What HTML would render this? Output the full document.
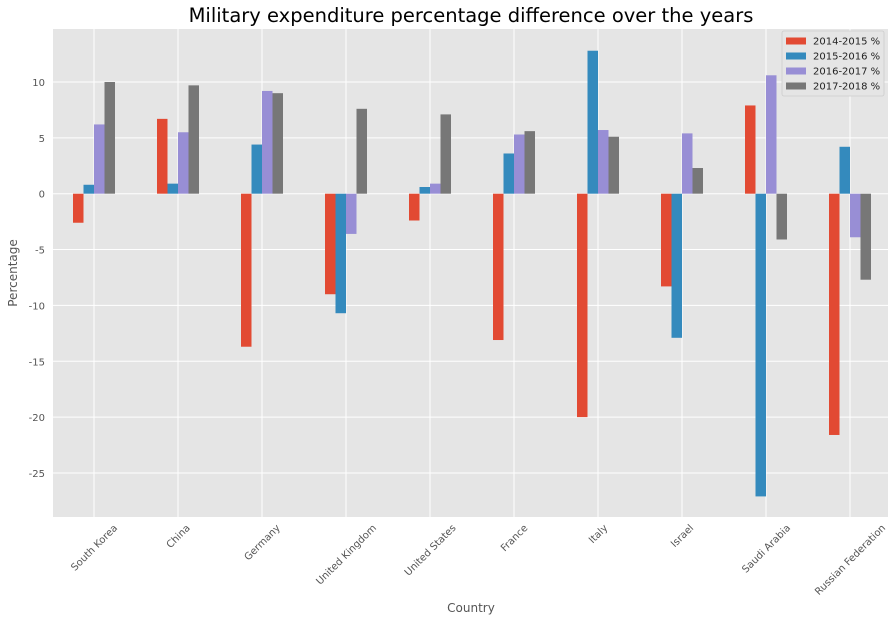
<!DOCTYPE html>
<html><head><meta charset="utf-8"><style>
body{margin:0;background:#fff;font-family:"Liberation Sans","DejaVu Sans",sans-serif}
svg text{font-family:"DejaVu Sans","Liberation Sans",sans-serif}
</style></head><body>
<svg id="c" width="896" height="623" xmlns="http://www.w3.org/2000/svg">
<text x="471" y="22" font-size="19.5" text-anchor="middle" fill="#000">Military expenditure percentage difference over the years</text>
<rect x="53" y="29" width="835" height="488" fill="#e5e5e5"/>
<g id="grid"></g><g id="bars"></g><g id="axes"></g>
<text x="471" y="612" font-size="12" text-anchor="middle" fill="#555">Country</text>
<text transform="translate(17,273) rotate(-90)" font-size="12" text-anchor="middle" fill="#555">Percentage</text>
<g id="legend"></g>
</svg>
<script>
const categories=["South Korea","China","Germany","United Kingdom","United States","France","Italy","Israel","Saudi Arabia","Russian Federation"];
const seriesNames=["2014-2015 %","2015-2016 %","2016-2017 %","2017-2018 %"];
const s1=[-2.6,6.7,-13.7,-9.0,-2.4,-13.1,-20.0,-8.3,7.9,-21.6];
const s2=[0.8,0.9,4.4,-10.7,0.6,3.6,12.8,-12.9,-27.1,4.2];
const s3=[6.2,5.5,9.2,-3.6,0.9,5.3,5.7,5.4,10.6,-3.9];
const s4=[10.0,9.7,9.0,7.6,7.1,5.6,5.1,2.3,-4.1,-7.7];
const yTicks=[10,5,0,-5,-10,-15,-20,-25];
const colors=["#e24a33","#348abd","#988ed5","#777777"];
const series=[s1,s2,s3,s4];
const NS="http://www.w3.org/2000/svg";
const y=v=>193.7-v*11.17;
const x=i=>94+i*84.0;
const bw=10.5;
function mk(t,a,p){const e=document.createElementNS(NS,t);for(const k in a)e.setAttribute(k,a[k]);p.appendChild(e);return e;}
const grid=document.getElementById('grid'),bars=document.getElementById('bars'),axes=document.getElementById('axes'),leg=document.getElementById('legend');
yTicks.forEach(v=>{
 const l=mk('line',{x1:53,x2:888,y1:y(v),y2:y(v),stroke:'#fff','stroke-width':1},grid);
 
 
 const t=mk('text',{x:45,y:y(v)+4,'font-size':10,'text-anchor':'end',fill:'#555'},axes);
 t.textContent=v;
 
 
});
categories.forEach((c,i)=>{
 const l=mk('line',{x1:x(i),x2:x(i),y1:29,y2:517,stroke:'#fff','stroke-width':1},grid);
 
 
 const t=mk('text',{'font-size':10,'text-anchor':'middle',fill:'#555'},axes);
 t.textContent=c;
 
 
 const L=t.getComputedTextLength();
 const cy=521+L*0.3536+5;
 t.setAttribute('transform',`translate(${x(i)},${cy}) rotate(-45) translate(0,3.5)`);
});
series.forEach((s,k)=>{
 s.forEach((v,i)=>{
  const cx=x(i)+(k-1.5)*bw;
  const r=mk('rect',{x:cx-bw/2,y:Math.min(y(v),y(0)),width:bw,height:Math.abs(y(v)-y(0)),fill:colors[k]},bars);
  
  
 });
});
mk('rect',{x:782,y:31,width:102,height:65,fill:'#e5e5e5',stroke:'#ccc','stroke-width':0.8,rx:2},leg);
seriesNames.forEach((n,k)=>{
 const yy=41+k*15;
 const r=mk('rect',{x:786,y:yy-3.5,width:20,height:7,fill:colors[k]},leg);
 
 
 const t=mk('text',{x:813,y:yy+3.5,'font-size':10,fill:'#222'},leg);
 t.textContent=n;
 
 
});
</script>
</body></html>
